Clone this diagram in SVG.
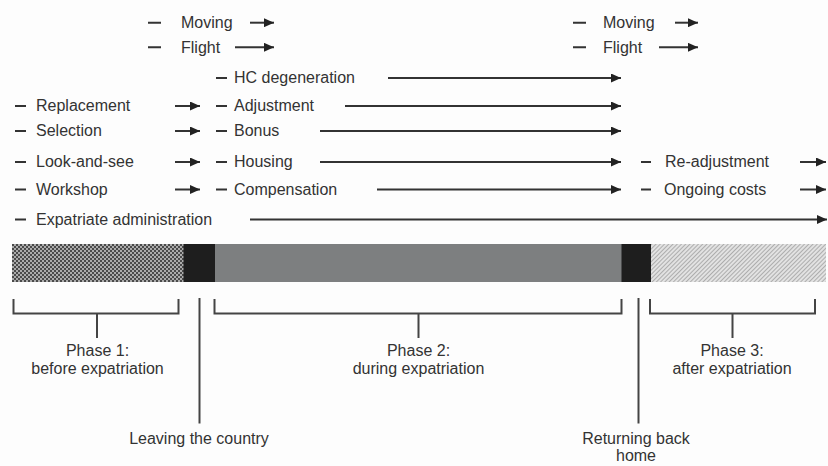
<svg xmlns="http://www.w3.org/2000/svg" width="828" height="466" viewBox="0 0 828 466">
<style>
text{font-family:"Liberation Sans",Arial,sans-serif;font-size:16px;fill:#333}
.c{text-anchor:middle}
.ln{stroke:#333;stroke-width:2;fill:none}
.ar{stroke:#333;stroke-width:2;fill:none;marker-end:url(#ah)}
.br{stroke:#444;stroke-width:2;fill:none}
</style>
<defs>
<marker id="ah" markerUnits="userSpaceOnUse" markerWidth="10" markerHeight="9" refX="10" refY="4.5" orient="auto">
<path d="M0,0 L10,4.5 L0,9 z" fill="#222"/>
</marker>
<pattern id="dots" patternUnits="userSpaceOnUse" width="4" height="4">
<rect width="4" height="4" fill="#ababab"/>
<rect width="2" height="2" fill="#4a4a4a"/>
<rect x="2" y="2" width="2" height="2" fill="#4a4a4a"/>
</pattern>
<pattern id="hatch" patternUnits="userSpaceOnUse" width="3" height="3" patternTransform="rotate(45)">
<rect width="3" height="3" fill="#e2e2e2"/>
<line x1="0" y1="0" x2="0" y2="3" stroke="#979797" stroke-width="1.4"/>
</pattern>
</defs>
<rect width="828" height="466" fill="#fdfdfd"/>

<g id="connectors">
<path class="ln" d="M148,22.7h13M148,47.3h13M573,22.7h13M573,47.3h13M216,78h11M15,106h11M216,106h11M15,131h11M216,131h11M15,162h11M216,162h11M15,189.5h11M216,189.5h11M641,162h10M641,189.5h10M15,219.5h11"/>
<line class="ar" x1="250" y1="22.7" x2="274" y2="22.7"/>
<line class="ar" x1="235" y1="47.3" x2="274" y2="47.3"/>
<line class="ar" x1="675" y1="22.7" x2="698" y2="22.7"/>
<line class="ar" x1="659" y1="47.3" x2="698" y2="47.3"/>
<line class="ar" x1="388" y1="78" x2="621" y2="78"/>
<line class="ar" x1="175" y1="106" x2="200" y2="106"/>
<line class="ar" x1="345" y1="106" x2="621" y2="106"/>
<line class="ar" x1="175" y1="131" x2="200" y2="131"/>
<line class="ar" x1="320" y1="131" x2="621" y2="131"/>
<line class="ar" x1="175" y1="162" x2="200" y2="162"/>
<line class="ar" x1="320" y1="162" x2="621" y2="162"/>
<line class="ar" x1="800" y1="162" x2="826" y2="162"/>
<line class="ar" x1="175" y1="189.5" x2="200" y2="189.5"/>
<line class="ar" x1="377" y1="189.5" x2="621" y2="189.5"/>
<line class="ar" x1="800" y1="189.5" x2="826" y2="189.5"/>
<line class="ar" x1="250" y1="219.5" x2="827" y2="219.5"/>
</g>

<g id="activities">
<text x="181" y="27.5">Moving</text>
<text x="181" y="52.5">Flight</text>
<text x="603" y="27.5">Moving</text>
<text x="603" y="52.5">Flight</text>
<text x="234" y="83">HC degeneration</text>
<text x="36" y="111">Replacement</text>
<text x="234" y="111">Adjustment</text>
<text x="36" y="136">Selection</text>
<text x="234" y="136">Bonus</text>
<text x="36" y="167">Look-and-see</text>
<text x="234" y="167">Housing</text>
<text x="665" y="167">Re-adjustment</text>
<text x="36" y="194.5">Workshop</text>
<text x="234" y="194.5">Compensation</text>
<text x="664" y="194.5">Ongoing costs</text>
<text x="36" y="224.5">Expatriate administration</text>
</g>

<g id="timeline">
<rect x="12" y="244" width="172" height="38" fill="url(#dots)"/>
<rect x="183.5" y="244" width="31.5" height="38" fill="#1e1e1e"/>
<rect x="215" y="244" width="407" height="38" fill="#7d7f80"/>
<rect x="621.5" y="244" width="29.5" height="38" fill="#1e1e1e"/>
<rect x="651" y="244" width="175" height="38" fill="url(#hatch)"/>
</g>

<g id="phase1">
<path class="br" d="M13.5,299V313.5H178.5V299M97,313.5V338"/>
<text class="c" x="97.5" y="356">Phase 1:</text>
<text class="c" x="97.5" y="373.5">before expatriation</text>
</g>
<g id="phase2">
<path class="br" d="M214.5,299V313.5H621.5V299M418.5,313.5V338"/>
<text class="c" x="418.5" y="356">Phase 2:</text>
<text class="c" x="418.5" y="373.5">during expatriation</text>
</g>
<g id="phase3">
<path class="br" d="M650,299V313.5H815V299M732.5,313.5V338"/>
<text class="c" x="732" y="356">Phase 3:</text>
<text class="c" x="732" y="373.5">after expatriation</text>
</g>
<g id="leaving">
<line class="br" x1="199.5" y1="298" x2="199.5" y2="423.5"/>
<text class="c" x="199" y="443.5">Leaving the country</text>
</g>
<g id="returning">
<line class="br" x1="638.5" y1="298" x2="638.5" y2="423.5"/>
<text class="c" x="636" y="443.5">Returning back</text>
<text class="c" x="636" y="460.5">home</text>
</g>
</svg>
